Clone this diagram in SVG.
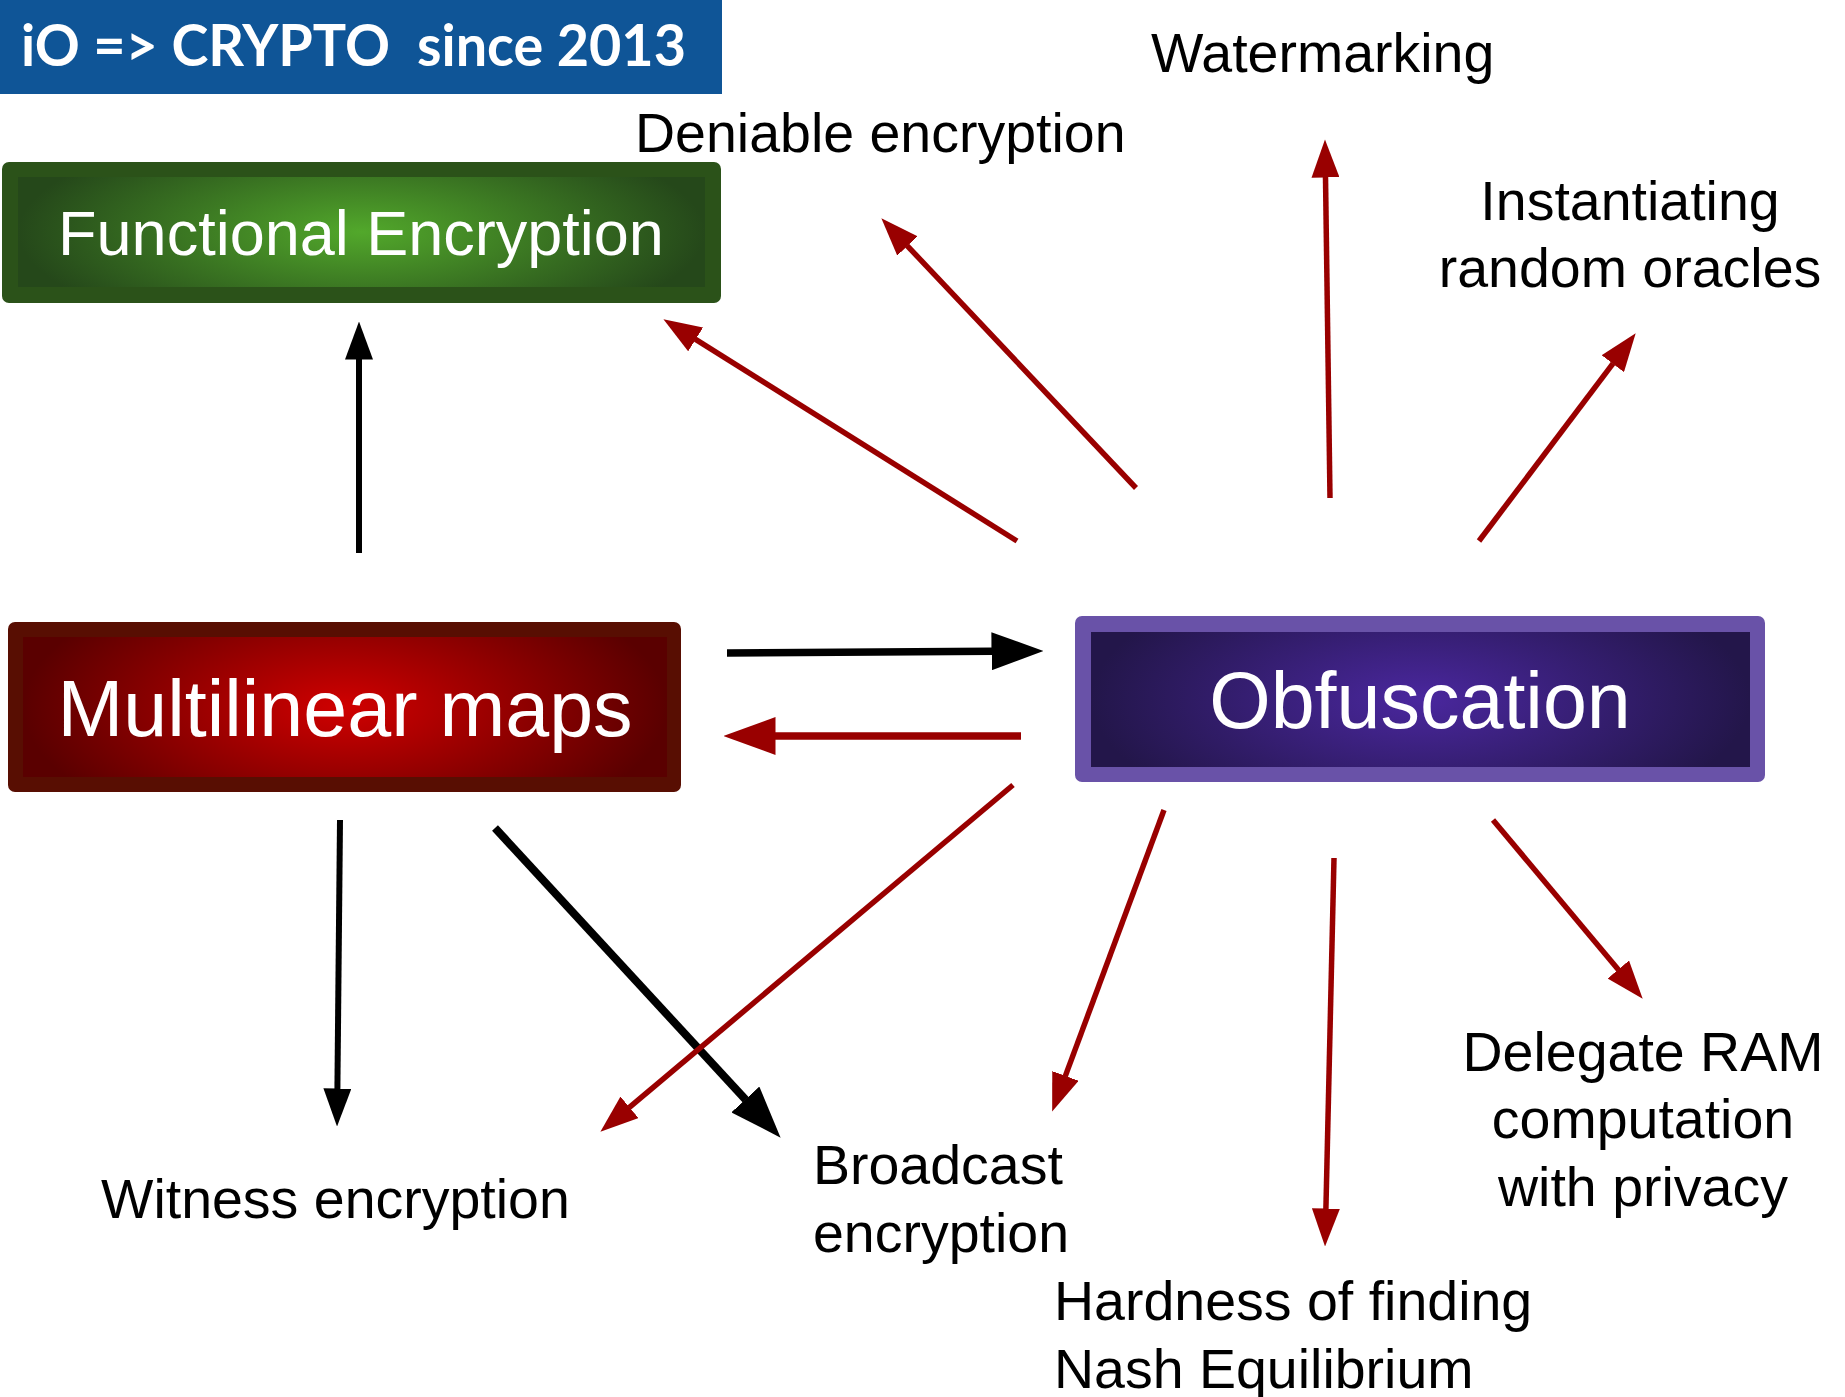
<svg xmlns="http://www.w3.org/2000/svg" width="1845" height="1397" viewBox="0 0 1845 1397">
<style>
.lbl{font-family:"Liberation Sans",Arial,sans-serif;font-size:55.5px;fill:#000}
.node{font-family:"Liberation Sans",Arial,sans-serif;fill:#fff;text-anchor:middle}
.red{stroke:#990000;fill:none;stroke-linecap:butt}
.blk{stroke:#000;fill:none;stroke-linecap:butt}
</style>
<defs>
<radialGradient id="gGreen" cx="0.5" cy="0.5" r="0.5" gradientTransform="translate(0.5 0.5) scale(1 2) translate(-0.5 -0.5)">
<stop offset="0" stop-color="#52a82b"/><stop offset="1" stop-color="#25481a"/>
</radialGradient>
<radialGradient id="gRed" cx="0.5" cy="0.5" r="0.5" gradientTransform="translate(0.5 0.5) scale(1 2) translate(-0.5 -0.5)">
<stop offset="0" stop-color="#d00000"/><stop offset="1" stop-color="#5a0000"/>
</radialGradient>
<radialGradient id="gPurple" cx="0.5" cy="0.5" r="0.5" gradientTransform="translate(0.5 0.5) scale(1 2) translate(-0.5 -0.5)">
<stop offset="0" stop-color="#4a279e"/><stop offset="1" stop-color="#23164a"/>
</radialGradient>
<marker id="rS" markerUnits="userSpaceOnUse" viewBox="0 0 38 28" markerWidth="38" markerHeight="28" refX="0.5" refY="14" orient="auto"><path d="M0,0 L38,14 L0,28 Z" fill="#990000"/></marker>
<marker id="rB" markerUnits="userSpaceOnUse" viewBox="0 0 52 38" markerWidth="52" markerHeight="38" refX="0.5" refY="19" orient="auto"><path d="M0,0 L52,19 L0,38 Z" fill="#990000"/></marker>
<marker id="kS" markerUnits="userSpaceOnUse" viewBox="0 0 38 28" markerWidth="38" markerHeight="28" refX="0.5" refY="14" orient="auto"><path d="M0,0 L38,14 L0,28 Z" fill="#000"/></marker>
<marker id="kB" markerUnits="userSpaceOnUse" viewBox="0 0 52 38" markerWidth="52" markerHeight="38" refX="0.5" refY="19" orient="auto"><path d="M0,0 L52,19 L0,38 Z" fill="#000"/></marker>
</defs>
<rect width="1845" height="1397" fill="#fff"/>

<g id="title">
<rect x="0" y="0" width="722" height="94" fill="#0f5597"/>
<text x="21" y="66" xml:space="preserve" font-family="Lato,'Open Sans',sans-serif" font-weight="bold" font-size="58" fill="#fff" textLength="665" lengthAdjust="spacingAndGlyphs">iO =&gt; CRYPTO  since 2013</text>
</g>

<g id="node-functional">
<rect x="2" y="162" width="719" height="141" rx="7" fill="#2b5219"/>
<rect x="18" y="177" width="687" height="110" fill="url(#gGreen)"/>
<text class="node" x="361" y="255" font-size="63">Functional Encryption</text>
</g>

<g id="node-multilinear">
<rect x="8" y="622" width="673" height="170" rx="7" fill="#580e02"/>
<rect x="23" y="637" width="644" height="140" fill="url(#gRed)"/>
<text class="node" x="345" y="736" font-size="79">Multilinear maps</text>
</g>

<g id="node-obfuscation">
<rect x="1075" y="616" width="690" height="166" rx="7" fill="#6952a8"/>
<rect x="1091" y="632" width="659" height="135" fill="url(#gPurple)"/>
<text class="node" x="1420" y="728" font-size="79">Obfuscation</text>
</g>

<g id="node-watermarking"><text class="lbl" x="1151" y="72">Watermarking</text></g>
<g id="node-deniable"><text class="lbl" x="635" y="152">Deniable encryption</text></g>
<g id="node-instantiating">
<text class="lbl" x="1630" y="220" text-anchor="middle">Instantiating</text>
<text class="lbl" x="1630" y="287" text-anchor="middle">random oracles</text>
</g>
<g id="node-delegate">
<text class="lbl" x="1643" y="1071" text-anchor="middle">Delegate RAM</text>
<text class="lbl" x="1643" y="1138" text-anchor="middle">computation</text>
<text class="lbl" x="1643" y="1206" text-anchor="middle">with privacy</text>
</g>
<g id="node-nash">
<text class="lbl" x="1054" y="1320">Hardness of finding</text>
<text class="lbl" x="1054" y="1388">Nash Equilibrium</text>
</g>
<g id="node-broadcast">
<text class="lbl" x="813" y="1184">Broadcast</text>
<text class="lbl" x="813" y="1252">encryption</text>
</g>
<g id="node-witness"><text class="lbl" x="101" y="1218">Witness encryption</text></g>

<g id="connectors">
<line class="blk" x1="359" y1="553" x2="359" y2="359" stroke-width="6" marker-end="url(#kS)"/>
<line class="blk" x1="727" y1="653" x2="992" y2="651.3" stroke-width="7.5" marker-end="url(#kB)"/>
<line class="blk" x1="340" y1="820" x2="337.4" y2="1089" stroke-width="6" marker-end="url(#kS)"/>
<line class="blk" x1="495" y1="828" x2="745.7" y2="1099.8" stroke-width="8" marker-end="url(#kB)"/>
<line class="red" x1="1021" y1="736" x2="775" y2="736" stroke-width="7.5" marker-end="url(#rB)"/>
<line class="red" x1="1017" y1="541" x2="695.2" y2="339.2" stroke-width="5.5" marker-end="url(#rS)"/>
<line class="red" x1="1136" y1="488" x2="907.1" y2="245.6" stroke-width="5.5" marker-end="url(#rS)"/>
<line class="red" x1="1330" y1="498" x2="1325.5" y2="177" stroke-width="5.5" marker-end="url(#rS)"/>
<line class="red" x1="1479" y1="541" x2="1613.1" y2="363.3" stroke-width="5.5" marker-end="url(#rS)"/>
<line class="red" x1="1013" y1="785" x2="629.1" y2="1107.6" stroke-width="5.5" marker-end="url(#rS)"/>
<line class="red" x1="1164" y1="810" x2="1065.2" y2="1076.4" stroke-width="5.5" marker-end="url(#rS)"/>
<line class="red" x1="1334" y1="858" x2="1325.9" y2="1209" stroke-width="5.5" marker-end="url(#rS)"/>
<line class="red" x1="1493" y1="820" x2="1618.6" y2="969.9" stroke-width="5.5" marker-end="url(#rS)"/>
</g>
</svg>
